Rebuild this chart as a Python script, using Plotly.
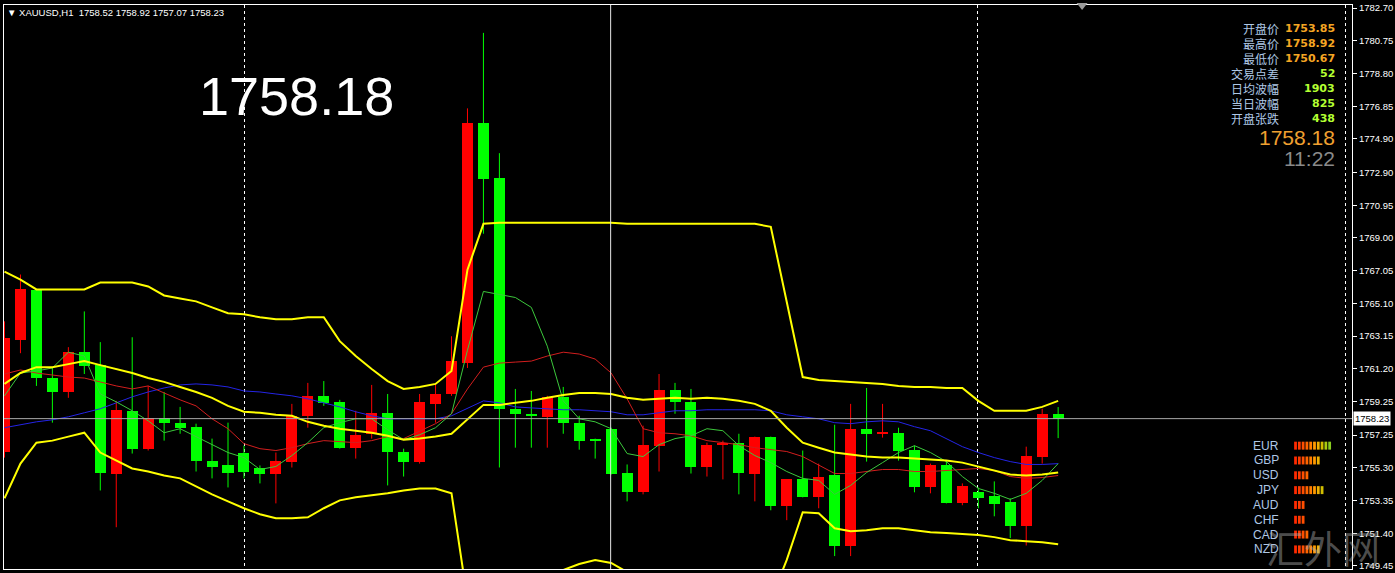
import plotly.graph_objects as go

# ---------------- XAUUSD H1 bars (oldest visible first) ----------------
opens = [1756.27, 1762.91, 1765.87, 1760.65, 1759.82, 1762.19, 1761.42, 1754.96, 1758.70, 1756.44,
         1758.28, 1757.99, 1757.75, 1755.73, 1755.44, 1756.21, 1755.26, 1754.96, 1755.67, 1758.40,
         1759.59, 1759.23, 1756.50, 1757.33, 1758.58, 1756.27, 1755.67, 1759.11, 1759.70, 1761.54,
         1775.83, 1772.57, 1758.82, 1758.52, 1758.34, 1759.53, 1757.99, 1757.04, 1757.63, 1755.02,
         1753.84, 1756.62, 1759.94, 1759.23, 1755.32, 1756.68, 1756.80, 1754.96, 1757.16, 1753.01,
         1754.61, 1753.54, 1754.90, 1750.63, 1757.63, 1757.33, 1757.39, 1756.38, 1754.13, 1755.44,
         1753.18, 1753.84, 1753.60, 1753.24, 1751.82, 1755.97, 1758.52]
highs = [1764.03, 1766.82, 1765.93, 1761.25, 1762.49, 1764.62, 1762.79, 1759.29, 1763.08, 1760.18,
         1759.82, 1758.93, 1757.93, 1757.04, 1757.99, 1756.62, 1755.44, 1756.21, 1759.11, 1760.36,
         1760.47, 1759.35, 1758.70, 1760.24, 1759.70, 1756.44, 1759.70, 1760.30, 1763.14, 1776.72,
         1781.22, 1774.05, 1760.00, 1759.88, 1759.59, 1760.12, 1758.40, 1757.04, 1757.69, 1755.50,
         1757.81, 1760.89, 1760.36, 1760.00, 1756.80, 1756.92, 1757.33, 1757.16, 1757.16, 1754.61,
         1756.33, 1755.55, 1757.87, 1759.11, 1760.06, 1759.11, 1757.69, 1756.62, 1755.55, 1755.73,
         1754.37, 1754.13, 1754.49, 1753.48, 1756.56, 1758.82, 1758.92]
lows = [1755.91, 1762.13, 1760.18, 1757.99, 1759.47, 1760.89, 1753.95, 1751.76, 1756.15, 1756.33,
        1756.92, 1757.33, 1755.08, 1754.67, 1754.13, 1754.67, 1754.37, 1753.18, 1755.32, 1757.69,
        1758.99, 1756.44, 1755.85, 1757.04, 1754.25, 1754.78, 1755.55, 1757.99, 1759.59, 1761.25,
        1769.25, 1755.32, 1756.50, 1756.50, 1756.50, 1757.33, 1756.38, 1755.85, 1754.90, 1753.30,
        1753.72, 1755.08, 1758.52, 1754.96, 1754.78, 1754.61, 1753.72, 1753.30, 1752.77, 1752.18,
        1753.54, 1752.89, 1750.04, 1750.04, 1755.67, 1757.10, 1755.73, 1753.84, 1753.78, 1753.18,
        1753.07, 1752.89, 1752.41, 1751.11, 1750.67, 1755.55, 1757.07]
closes = [1763.02, 1765.93, 1760.65, 1759.82, 1762.19, 1761.36, 1755.02, 1758.76, 1756.44, 1758.28,
          1757.99, 1757.69, 1755.73, 1755.32, 1755.02, 1755.08, 1754.96, 1755.73, 1758.40, 1759.59,
          1759.17, 1756.50, 1757.27, 1758.58, 1756.27, 1755.67, 1759.23, 1759.70, 1761.66, 1775.83,
          1772.51, 1758.82, 1758.52, 1758.40, 1759.53, 1757.99, 1756.92, 1756.92, 1754.96, 1753.84,
          1756.68, 1759.94, 1759.23, 1755.32, 1756.68, 1756.80, 1755.02, 1757.16, 1753.01, 1754.61,
          1753.54, 1754.78, 1750.63, 1757.63, 1757.33, 1757.45, 1756.33, 1754.13, 1755.44, 1753.18,
          1754.19, 1753.48, 1753.12, 1751.82, 1756.03, 1758.52, 1758.23]

# ---------------- indicator lines ----------------
band_upper = [1766.99, 1766.52, 1765.93, 1765.93, 1765.93, 1765.93, 1766.34, 1766.34, 1766.34, 1766.11,
              1765.57, 1765.39, 1765.22, 1764.86, 1764.51, 1764.45, 1764.27, 1764.15, 1764.15, 1764.27,
              1764.27, 1762.85, 1761.96, 1761.19, 1760.47, 1760.00, 1760.12, 1760.30, 1761.07, 1767.11,
              1769.84, 1769.90, 1769.90, 1769.90, 1769.90, 1769.90, 1769.90, 1769.90, 1769.90, 1769.84,
              1769.84, 1769.84, 1769.84, 1769.84, 1769.84, 1769.84, 1769.84, 1769.84, 1769.66, 1765.22,
              1760.71, 1760.53, 1760.47, 1760.42, 1760.36, 1760.30, 1760.18, 1760.12, 1760.12, 1760.06,
              1760.06, 1759.29, 1758.70, 1758.70, 1758.70, 1758.93, 1759.29]
band_middle = [1760.30, 1760.95, 1761.30, 1761.30, 1761.48, 1761.66, 1761.42, 1761.19, 1760.95, 1760.65,
               1760.42, 1760.12, 1759.82, 1759.47, 1758.99, 1758.64, 1758.58, 1758.46, 1758.40, 1758.04,
               1757.81, 1757.63, 1757.51, 1757.39, 1757.21, 1756.98, 1757.04, 1757.16, 1757.33, 1758.22,
               1759.05, 1759.05, 1759.17, 1759.29, 1759.47, 1759.64, 1759.76, 1759.76, 1759.70, 1759.47,
               1759.35, 1759.41, 1759.47, 1759.41, 1759.47, 1759.41, 1759.29, 1759.11, 1758.70, 1757.69,
               1756.80, 1756.50, 1756.21, 1756.09, 1755.97, 1755.91, 1755.91, 1755.85, 1755.79, 1755.73,
               1755.61, 1755.38, 1755.14, 1754.90, 1754.84, 1754.90, 1755.02]
band_lower = [1753.48, 1755.55, 1756.80, 1756.92, 1757.16, 1757.39, 1756.21, 1755.73, 1755.26, 1755.08,
              1754.84, 1754.67, 1754.19, 1753.72, 1753.30, 1752.89, 1752.53, 1752.29, 1752.29, 1752.35,
              1752.89, 1753.36, 1753.54, 1753.66, 1753.78, 1753.95, 1754.07, 1754.07, 1753.78, 1747.43,
              1746.25, 1747.43, 1747.73, 1748.03, 1748.62, 1749.21, 1749.57, 1749.81, 1749.63, 1749.09,
              1748.03, 1747.43, 1747.43, 1747.43, 1747.43, 1747.43, 1747.43, 1747.43, 1747.43, 1749.81,
              1752.65, 1752.59, 1751.70, 1751.52, 1751.58, 1751.70, 1751.70, 1751.58, 1751.46, 1751.41,
              1751.35, 1751.29, 1751.17, 1750.99, 1750.93, 1750.87, 1750.75]
ma_slow = [1757.69, 1757.87, 1758.04, 1758.16, 1758.34, 1758.58, 1758.82, 1759.17, 1759.53, 1759.82,
           1760.06, 1760.24, 1760.30, 1760.24, 1760.12, 1759.88, 1759.82, 1759.70, 1759.59, 1759.41,
           1759.17, 1758.93, 1758.64, 1758.40, 1758.22, 1758.22, 1758.22, 1758.22, 1758.40, 1758.87,
           1759.29, 1759.17, 1758.93, 1758.87, 1758.82, 1758.76, 1758.76, 1758.70, 1758.64, 1758.46,
           1758.46, 1758.58, 1758.70, 1758.70, 1758.76, 1758.76, 1758.76, 1758.76, 1758.70, 1758.46,
           1758.34, 1758.22, 1757.99, 1757.93, 1758.04, 1758.10, 1758.04, 1757.75, 1757.51, 1757.04,
           1756.56, 1756.21, 1755.91, 1755.67, 1755.50, 1755.50, 1755.55]
ma_mid = [1760.89, 1761.13, 1760.95, 1760.83, 1760.71, 1760.65, 1760.42, 1760.18, 1760.00, 1760.18,
          1759.76, 1759.35, 1758.99, 1758.22, 1757.63, 1756.74, 1756.44, 1756.33, 1756.50, 1756.74,
          1756.92, 1756.86, 1756.80, 1756.92, 1757.16, 1757.04, 1757.51, 1757.93, 1758.52, 1760.00,
          1761.30, 1761.54, 1761.60, 1761.66, 1761.96, 1762.19, 1762.08, 1761.78, 1760.95, 1759.41,
          1757.63, 1757.39, 1757.33, 1757.21, 1756.92, 1756.80, 1756.68, 1756.50, 1756.38, 1756.27,
          1755.97, 1755.44, 1754.96, 1754.96, 1755.08, 1755.20, 1755.20, 1755.08, 1755.08, 1755.14,
          1755.20, 1755.26, 1755.14, 1754.78, 1754.67, 1754.72, 1754.84]
ma_fast = [1759.59, 1760.95, 1761.07, 1761.25, 1762.19, 1761.96, 1759.70, 1759.23, 1758.70, 1758.10,
           1757.39, 1757.63, 1757.16, 1756.68, 1756.21, 1755.91, 1755.20, 1755.38, 1756.03, 1756.80,
           1757.69, 1757.99, 1758.22, 1758.22, 1757.57, 1756.98, 1757.27, 1757.69, 1758.52, 1762.31,
           1765.81, 1765.63, 1765.45, 1764.86, 1762.55, 1759.29, 1758.22, 1758.04, 1757.63, 1756.15,
           1755.97, 1756.68, 1757.04, 1757.21, 1757.63, 1757.51, 1756.62, 1756.03, 1755.61, 1755.08,
           1754.67, 1754.55, 1753.72, 1754.25, 1755.02, 1755.61, 1756.21, 1756.62, 1756.21, 1755.67,
           1754.78, 1754.07, 1753.78, 1753.42, 1753.78, 1754.55, 1755.55]

# ---------------- price scale ----------------
price_ticks = [1782.70, 1780.75, 1778.80, 1776.85, 1774.90, 1772.90, 1770.95, 1769.00, 1767.05,
               1765.10, 1763.15, 1761.20, 1759.25, 1757.25, 1755.30, 1753.35, 1751.40, 1749.45]

# ---------------- info panel ----------------
bid_price = 1758.18
clock_text = "11:22"
info_labels = ["开盘价", "最高价", "最低价", "交易点差", "日均波幅", "当日波幅", "开盘张跌"]
info_values = ["1753.85", "1758.92", "1750.67", "52", "1903", "825", "438"]

# currency strength meter
currencies = ["EUR", "GBP", "USD", "JPY", "AUD", "CHF", "CAD", "NZD"]
strength = [10, 7, 4, 8, 3, 3, 4, 7]

# ---------------- geometry / style ----------------
W, H = 1395, 573
PL, PR, PT, PB = 4, 1355, 2, 569          # plot area in page pixels
BAR_PX = 16.0                              # pixels per bar
Y_TOP, Y_BOT = 1782.88, 1749.27
X_LO = (PL - 4.5) / BAR_PX
X_HI = (PR - 4.5) / BAR_PX

UP_COLOR = "#FF0000"
DOWN_COLOR = "#00FF00"
LABEL_BLUE = "#AFC8E6"


def xp(px):
    return (px - PL) / (PR - PL)


def yp(py):
    return (PB - py) / (PB - PT)


fig = go.Figure()
idx = list(range(len(opens)))
min_body = 0.06

for rising, color in [(True, UP_COLOR), (False, DOWN_COLOR)]:
    sel = [i for i in idx if (closes[i] >= opens[i]) == rising]
    wx, wy = [], []
    for i in sel:
        wx += [i, i, None]
        wy += [lows[i], highs[i], None]
    fig.add_trace(go.Scatter(x=wx, y=wy, mode="lines",
                             line=dict(color=color, width=1), hoverinfo="skip"))
    fig.add_trace(go.Bar(
        x=sel,
        base=[min(opens[i], closes[i]) for i in sel],
        y=[max(abs(closes[i] - opens[i]), min_body) for i in sel],
        width=0.69, marker=dict(color=color, line=dict(width=0)),
        hoverinfo="skip"))

# moving averages
for series, color in [(ma_slow, "#2424E6"), (ma_mid, "#D21E1E"), (ma_fast, "#3CC83C")]:
    fig.add_trace(go.Scatter(x=idx, y=series, mode="lines",
                             line=dict(color=color, width=1), hoverinfo="skip"))

# bands
for series in (band_upper, band_middle, band_lower):
    fig.add_trace(go.Scatter(x=idx, y=series, mode="lines",
                             line=dict(color="#FFFF00", width=2), hoverinfo="skip"))

shapes = []
# current price line
shapes.append(dict(type="line", xref="paper", yref="y", x0=0, x1=1,
                   y0=closes[-1], y1=closes[-1], line=dict(color="#A8A8A8", width=1)))
# vertical separator
shapes.append(dict(type="line", xref="x", yref="paper", x0=(612 - 4.5) / BAR_PX,
                   x1=(612 - 4.5) / BAR_PX, y0=0, y1=1, line=dict(color="#E8E8E8", width=1)))
# chart shift marker
shapes.append(dict(type="path", xref="paper", yref="paper",
                   path=f"M {xp(1079)},{yp(0)} L {xp(1090)},{yp(0)} L {xp(1084.5)},{yp(7)} Z",
                   fillcolor="#9A9A9A", line=dict(width=0)))

# strength meter segments
seg_colors = ["#FF2A00", "#FF3A00", "#FF4E00", "#FF6400", "#FF7E00",
              "#FF9A00", "#EEB000", "#D2BE00", "#AACC10", "#88CC20"]
for r, n in enumerate(strength):
    yc = 445 + 14.9 * r
    for j in range(n):
        x0 = 1297 + 3.8 * j
        shapes.append(dict(type="rect", xref="paper", yref="paper",
                           x0=xp(x0), x1=xp(x0 + 2.8), y0=yp(yc + 4), y1=yp(yc - 4),
                           fillcolor=seg_colors[j], line=dict(width=0)))

annotations = []


def note(text, px, py, size, color, anchor="left", family="Liberation Sans, Arial"):
    annotations.append(dict(text=text, xref="paper", yref="paper", x=xp(px), y=yp(py),
                            xanchor=anchor, yanchor="middle", showarrow=False,
                            font=dict(family=family, size=size, color=color)))


header = ("▼ XAUUSD,H1\u00a0\u00a0"
          f"{opens[-1]:.2f} {highs[-1]:.2f} {lows[-1]:.2f} {closes[-1]:.2f}")
note(header, 5, 10, 9.5, "#FFFFFF")
note(f"{bid_price:.2f}", 297, 93, 54, "#FFFFFF", anchor="center")

cjk = "Noto Sans CJK SC"
for r, (lab, val) in enumerate(zip(info_labels, info_values)):
    yrow = 26 + 15 * r
    note(lab, 1284, yrow, 12, LABEL_BLUE, anchor="right", family=cjk)
    vcol = "#F5A623" if r < 3 else "#B4FF32"
    note(f"<b>{val}</b>", 1340, yrow, 11, vcol, anchor="right", family="DejaVu Sans")

note(f"{bid_price:.2f}", 1340, 135, 21, "#F0A030", anchor="right")
note(clock_text, 1340, 156, 21, "#8A8A8A", anchor="right")

for r, cur in enumerate(currencies):
    note(cur, 1284, 445 + 14.9 * r, 12, LABEL_BLUE, anchor="right")

# site watermark
note("汇外网", 1326, 546, 38, "rgba(175,175,175,0.45)", anchor="center", family=cjk)

# last price tag on the scale
annotations.append(dict(text=f"{closes[-1]:.2f}", xref="paper", yref="y",
                        x=xp(1356), y=closes[-1], xanchor="left", yanchor="middle",
                        showarrow=False, bgcolor="#FFFFFF", borderpad=1,
                        font=dict(family="Liberation Sans, Arial", size=9.5, color="#000000")))

fig.update_layout(
    width=W, height=H, autosize=False,
    margin=dict(l=PL, r=W - PR, t=PT, b=H - PB, pad=0),
    paper_bgcolor="#000000", plot_bgcolor="#000000",
    showlegend=False, hovermode=False, barmode="overlay", bargap=0,
    shapes=shapes, annotations=annotations,
    xaxis=dict(range=[X_LO, X_HI], fixedrange=True,
               tickvals=[(245 - 4.5) / BAR_PX, (980 - 4.5) / BAR_PX, (1348 - 4.5) / BAR_PX],
               showticklabels=False, ticks="",
               showgrid=True, gridcolor="#FFFFFF", gridwidth=1, griddash="3px,3px",
               zeroline=False, showline=True, linecolor="#FFFFFF", linewidth=1, mirror=True),
    yaxis=dict(range=[Y_BOT, Y_TOP], side="right", fixedrange=True,
               tickvals=price_ticks, ticktext=[f"{v:.2f}" for v in price_ticks],
               ticks="outside", ticklen=4, tickcolor="#FFFFFF", tickwidth=1,
               tickfont=dict(family="Liberation Sans, Arial", size=9.5, color="#FFFFFF"),
               showgrid=False, zeroline=False,
               showline=True, linecolor="#FFFFFF", linewidth=1, mirror=True),
)

fig.write_html("out.html", config={"displayModeBar": False})
